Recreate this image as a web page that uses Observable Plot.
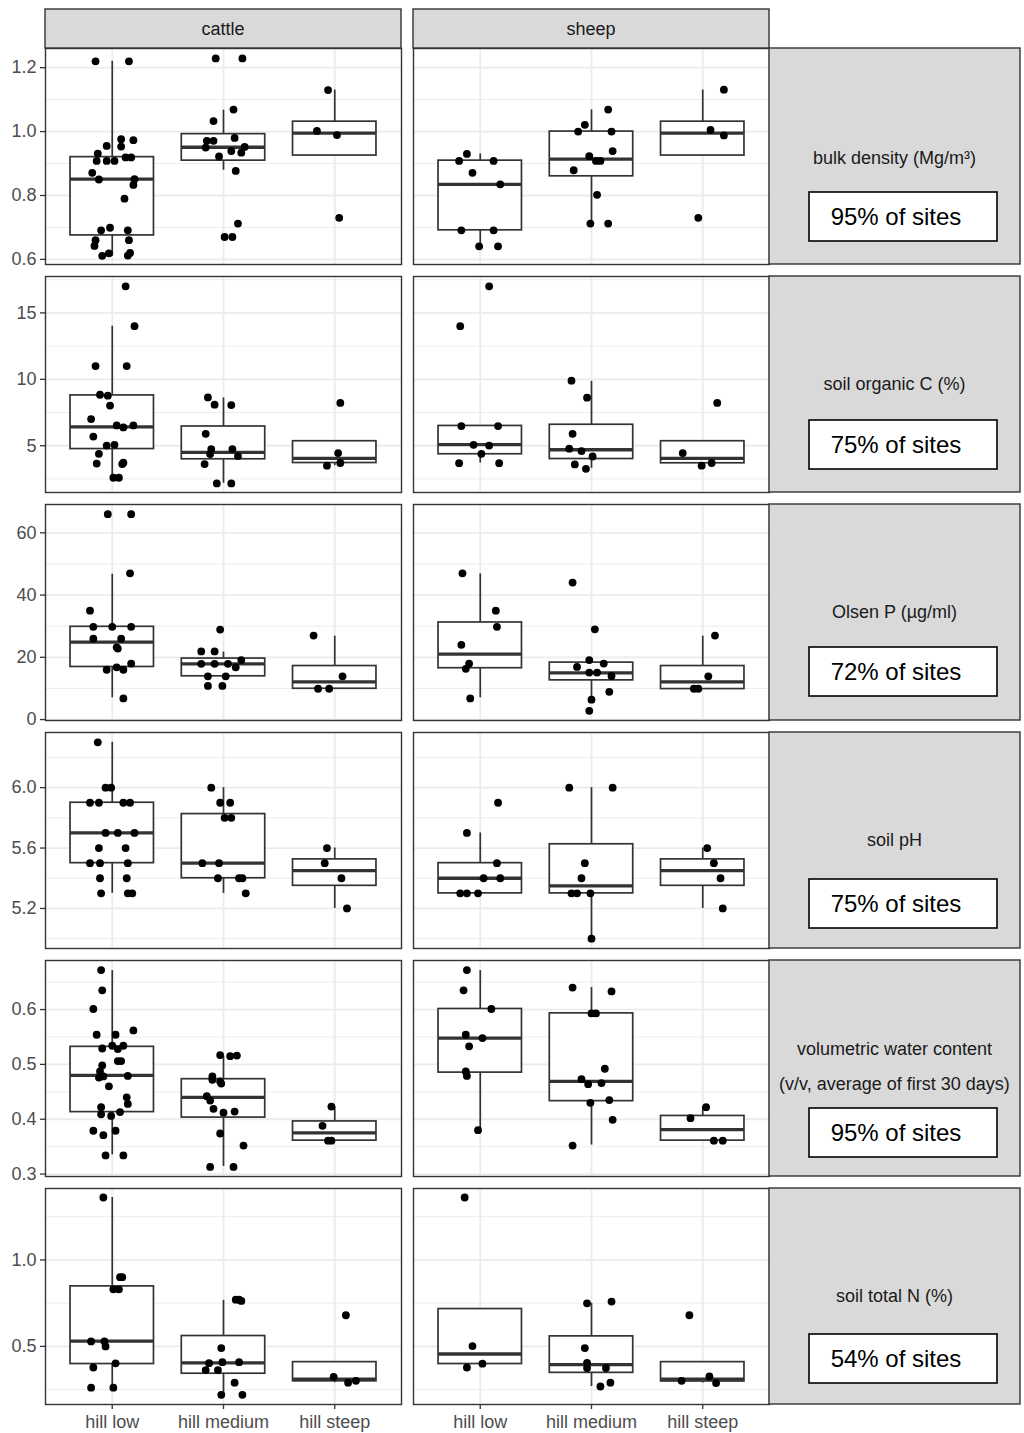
<!DOCTYPE html>
<html><head><meta charset="utf-8">
<script src="https://cdn.jsdelivr.net/npm/d3@7"></script>
<script src="https://cdn.jsdelivr.net/npm/@observablehq/plot@0.6"></script>
<style>
body{margin:0;background:#fff;}
#fig{position:relative;width:1024px;height:1433px;overflow:hidden;background:#fff;font-family:"Liberation Sans",Arial,sans-serif;}
#fig svg{position:absolute;}
</style></head><body><div id="fig"></div>
<script>
// ---------- categories and labels ----------
const animals = ["cattle", "sheep"];
const categories = ["hill low", "hill medium", "hill steep"];
const variableLabels = [
  ["bulk density (Mg/m³)"],
  ["soil organic C (%)"],
  ["Olsen P (µg/ml)"],
  ["soil pH"],
  ["volumetric water content", "(v/v, average of first 30 days)"],
  ["soil total N (%)"]
];
const siteLabels = ["95% of sites", "75% of sites", "72% of sites", "75% of sites", "95% of sites", "54% of sites"];

// ---------- y scale domains and breaks ----------
const yDomains = [[0.584, 1.26], [1.48, 17.74], [-0.3, 69.1], [4.935, 6.365], [0.2956, 0.6894], [0.164, 1.413]];
const majorTicks = [[0.6, 0.8, 1.0, 1.2], [5, 10, 15], [0, 20, 40, 60], [5.2, 5.6, 6.0], [0.3, 0.4, 0.5, 0.6], [0.5, 1.0]];
const minorTicks = [[0.7, 0.9, 1.1], [2.5, 7.5, 12.5, 17.5], [10, 30, 50], [5.0, 5.4, 5.8, 6.2], [0.35, 0.45, 0.55, 0.65], [0.25, 0.75, 1.25]];
const tickFormats = [".1f", "d", "d", ".1f", ".1f", ".1f"];

// ---------- points: [animal, category index, jitter, value] ----------
const bulkDensityPoints = [
  ["cattle",0,-0.15,1.22],["cattle",0,0.15,1.22],["cattle",0,0.08,0.976],["cattle",0,0.19,0.973],["cattle",0,0.08,0.953],["cattle",0,-0.05,0.955],["cattle",0,-0.13,0.931],["cattle",0,-0.14,0.908],["cattle",0,-0.05,0.908],["cattle",0,0.02,0.908],["cattle",0,0.12,0.919],["cattle",0,0.17,0.919],["cattle",0,-0.18,0.871],["cattle",0,-0.12,0.85],["cattle",0,0.2,0.851],["cattle",0,0.19,0.833],["cattle",0,0.11,0.79],["cattle",0,-0.02,0.699],["cattle",0,-0.1,0.691],["cattle",0,0.14,0.691],["cattle",0,0.15,0.66],["cattle",0,-0.15,0.66],["cattle",0,-0.16,0.642],["cattle",0,-0.03,0.619],["cattle",0,-0.09,0.611],["cattle",0,0.14,0.612],["cattle",0,0.16,0.62],
  ["cattle",1,-0.07,1.229],["cattle",1,0.17,1.229],["cattle",1,0.09,1.069],["cattle",1,-0.09,1.033],["cattle",1,-0.15,0.971],["cattle",1,-0.09,0.971],["cattle",1,0.1,0.98],["cattle",1,-0.16,0.95],["cattle",1,-0.04,0.922],["cattle",1,0.07,0.939],["cattle",1,0.16,0.934],["cattle",1,0.19,0.952],["cattle",1,0.11,0.877],["cattle",1,0.13,0.712],["cattle",1,0.01,0.67],["cattle",1,0.08,0.67],
  ["cattle",2,-0.06,1.13],["cattle",2,-0.16,1.002],["cattle",2,0.02,0.989],["cattle",2,0.04,0.73],
  ["sheep",0,-0.12,0.93],["sheep",0,-0.19,0.908],["sheep",0,0.12,0.908],["sheep",0,-0.07,0.871],["sheep",0,0.18,0.835],["sheep",0,-0.17,0.691],["sheep",0,0.12,0.691],["sheep",0,-0.01,0.641],["sheep",0,0.16,0.641],
  ["sheep",1,0.15,1.069],["sheep",1,-0.06,1.021],["sheep",1,-0.12,1.0],["sheep",1,0.18,1.0],["sheep",1,0.19,0.939],["sheep",1,-0.02,0.923],["sheep",1,0.04,0.908],["sheep",1,0.08,0.908],["sheep",1,-0.16,0.879],["sheep",1,0.05,0.802],["sheep",1,-0.01,0.712],["sheep",1,0.15,0.712],
  ["sheep",2,0.19,1.131],["sheep",2,0.07,1.005],["sheep",2,0.19,0.988],["sheep",2,-0.04,0.73]
];
const organicCPoints = [
  ["cattle",0,0.12,17.0],["cattle",0,0.2,14.0],["cattle",0,-0.15,11.0],["cattle",0,0.13,11.0],["cattle",0,-0.11,8.84],["cattle",0,-0.04,8.77],["cattle",0,-0.02,8.02],["cattle",0,-0.19,7.01],["cattle",0,0.04,6.53],["cattle",0,0.1,6.38],["cattle",0,0.19,6.53],["cattle",0,-0.17,5.69],["cattle",0,-0.05,5.01],["cattle",0,0.02,5.07],["cattle",0,-0.12,4.39],["cattle",0,-0.14,3.66],["cattle",0,0.09,3.62],["cattle",0,0.1,3.72],["cattle",0,0.01,2.59],["cattle",0,0.06,2.59],
  ["cattle",1,-0.14,8.64],["cattle",1,-0.08,8.09],["cattle",1,0.07,8.06],["cattle",1,-0.16,5.9],["cattle",1,-0.11,4.75],["cattle",1,0.08,4.75],["cattle",1,-0.12,4.37],["cattle",1,0.13,4.22],["cattle",1,-0.17,3.62],["cattle",1,-0.06,2.16],["cattle",1,0.07,2.16],
  ["cattle",2,0.05,8.22],["cattle",2,0.03,4.45],["cattle",2,0.05,3.7],["cattle",2,-0.07,3.5],
  ["sheep",0,0.08,17.0],["sheep",0,-0.18,14.0],["sheep",0,-0.17,6.48],["sheep",0,0.16,6.48],["sheep",0,-0.06,5.07],["sheep",0,0.08,5.01],["sheep",0,0.01,4.39],["sheep",0,-0.19,3.69],["sheep",0,0.17,3.69],
  ["sheep",1,-0.18,9.9],["sheep",1,-0.04,8.62],["sheep",1,-0.17,5.9],["sheep",1,-0.2,4.78],["sheep",1,-0.09,4.6],["sheep",1,0.01,4.19],["sheep",1,-0.15,3.59],["sheep",1,-0.05,3.26],
  ["sheep",2,0.13,8.22],["sheep",2,-0.18,4.45],["sheep",2,-0.01,3.5],["sheep",2,0.08,3.7]
];
const olsenPPoints = [
  ["cattle",0,-0.04,66],["cattle",0,0.17,66],["cattle",0,0.16,47],["cattle",0,-0.2,35],["cattle",0,-0.17,29.8],["cattle",0,0,29.8],["cattle",0,0.17,29.8],["cattle",0,-0.17,26],["cattle",0,0.08,26],["cattle",0,0.04,23.2],["cattle",0,0.05,22.8],["cattle",0,0.17,18],["cattle",0,-0.05,16],["cattle",0,0.1,16],["cattle",0,0.04,16.8],["cattle",0,0.1,6.8],
  ["cattle",1,-0.03,28.9],["cattle",1,-0.2,21.9],["cattle",1,-0.08,21.9],["cattle",1,0.16,19.1],["cattle",1,-0.2,17.9],["cattle",1,-0.08,17.9],["cattle",1,0.04,17.9],["cattle",1,0.11,16.8],["cattle",1,-0.14,13.9],["cattle",1,0.02,13.9],["cattle",1,-0.14,10.8],["cattle",1,-0.01,10.8],
  ["cattle",2,-0.19,27],["cattle",2,0.07,13.9],["cattle",2,-0.15,9.9],["cattle",2,-0.05,9.9],
  ["sheep",0,-0.16,47],["sheep",0,0.14,35],["sheep",0,0.15,29.8],["sheep",0,-0.17,24],["sheep",0,-0.1,18],["sheep",0,-0.13,16.3],["sheep",0,-0.09,6.8],
  ["sheep",1,-0.17,44],["sheep",1,0.03,29],["sheep",1,-0.02,19.1],["sheep",1,0.11,18],["sheep",1,-0.13,16.9],["sheep",1,-0.02,15.1],["sheep",1,0.05,15.1],["sheep",1,0.18,14],["sheep",1,0.16,8.9],["sheep",1,0,6.4],["sheep",1,-0.02,2.8],
  ["sheep",2,0.11,27],["sheep",2,0.05,13.9],["sheep",2,-0.08,9.9],["sheep",2,-0.04,9.9]
];
const soilPHPoints = [
  ["cattle",0,-0.13,6.3],["cattle",0,-0.06,6.0],["cattle",0,-0.01,6.0],["cattle",0,-0.2,5.9],["cattle",0,-0.12,5.9],["cattle",0,0.1,5.9],["cattle",0,0.16,5.9],["cattle",0,-0.06,5.7],["cattle",0,0.05,5.7],["cattle",0,0.2,5.7],["cattle",0,-0.12,5.6],["cattle",0,0.12,5.6],["cattle",0,-0.2,5.5],["cattle",0,-0.11,5.5],["cattle",0,0.14,5.5],["cattle",0,-0.11,5.4],["cattle",0,0.13,5.4],["cattle",0,-0.1,5.3],["cattle",0,0.14,5.3],["cattle",0,0.18,5.3],
  ["cattle",1,-0.11,6.0],["cattle",1,-0.03,5.9],["cattle",1,0.06,5.9],["cattle",1,0.01,5.8],["cattle",1,0.07,5.8],["cattle",1,-0.19,5.5],["cattle",1,-0.04,5.5],["cattle",1,-0.05,5.4],["cattle",1,0.14,5.4],["cattle",1,0.17,5.4],["cattle",1,0.2,5.3],
  ["cattle",2,-0.07,5.6],["cattle",2,-0.09,5.5],["cattle",2,0.06,5.4],["cattle",2,0.11,5.2],
  ["sheep",0,0.16,5.9],["sheep",0,-0.12,5.7],["sheep",0,0.15,5.5],["sheep",0,0.03,5.4],["sheep",0,0.18,5.4],["sheep",0,-0.18,5.3],["sheep",0,-0.12,5.3],["sheep",0,-0.02,5.3],
  ["sheep",1,-0.2,6.0],["sheep",1,0.19,6.0],["sheep",1,-0.06,5.5],["sheep",1,-0.09,5.4],["sheep",1,-0.18,5.3],["sheep",1,-0.13,5.3],["sheep",1,-0.01,5.3],["sheep",1,0,5.0],
  ["sheep",2,0.04,5.6],["sheep",2,0.1,5.5],["sheep",2,0.16,5.4],["sheep",2,0.18,5.2]
];
const waterContentPoints = [
  ["cattle",0,-0.1,0.672],["cattle",0,-0.09,0.635],["cattle",0,-0.17,0.601],["cattle",0,-0.14,0.554],["cattle",0,0.03,0.554],["cattle",0,0.19,0.562],["cattle",0,-0.09,0.529],["cattle",0,0,0.534],["cattle",0,0.05,0.528],["cattle",0,0.1,0.534],["cattle",0,0.05,0.506],["cattle",0,0.08,0.506],["cattle",0,-0.09,0.498],["cattle",0,-0.11,0.487],["cattle",0,-0.12,0.476],["cattle",0,-0.08,0.478],["cattle",0,0.14,0.479],["cattle",0,-0.03,0.46],["cattle",0,0.13,0.44],["cattle",0,0.14,0.428],["cattle",0,-0.1,0.422],["cattle",0,-0.1,0.409],["cattle",0,-0.01,0.406],["cattle",0,0.07,0.413],["cattle",0,-0.17,0.379],["cattle",0,-0.08,0.371],["cattle",0,0.03,0.379],["cattle",0,-0.06,0.334],["cattle",0,0.1,0.334],
  ["cattle",1,-0.03,0.517],["cattle",1,0.06,0.515],["cattle",1,0.12,0.516],["cattle",1,-0.1,0.478],["cattle",1,-0.1,0.472],["cattle",1,-0.03,0.469],["cattle",1,-0.02,0.465],["cattle",1,-0.15,0.442],["cattle",1,-0.12,0.434],["cattle",1,-0.09,0.419],["cattle",1,0,0.412],["cattle",1,0.1,0.414],["cattle",1,-0.03,0.374],["cattle",1,0.18,0.352],["cattle",1,-0.12,0.313],["cattle",1,0.09,0.313],
  ["cattle",2,-0.03,0.423],["cattle",2,-0.11,0.388],["cattle",2,-0.06,0.361],["cattle",2,-0.03,0.361],
  ["sheep",0,-0.12,0.672],["sheep",0,-0.15,0.635],["sheep",0,0.1,0.601],["sheep",0,-0.13,0.554],["sheep",0,0.02,0.548],["sheep",0,-0.1,0.533],["sheep",0,-0.13,0.487],["sheep",0,-0.12,0.479],["sheep",0,-0.02,0.38],
  ["sheep",1,-0.17,0.64],["sheep",1,0.18,0.633],["sheep",1,0,0.593],["sheep",1,0.04,0.593],["sheep",1,0.12,0.492],["sheep",1,-0.09,0.473],["sheep",1,-0.03,0.464],["sheep",1,0.09,0.466],["sheep",1,0.16,0.435],["sheep",1,-0.01,0.43],["sheep",1,0.19,0.399],["sheep",1,-0.17,0.352],
  ["sheep",2,0.03,0.422],["sheep",2,-0.11,0.402],["sheep",2,0.1,0.361],["sheep",2,0.18,0.361]
];
const totalNPoints = [
  ["cattle",0,-0.08,1.361],["cattle",0,0.07,0.9],["cattle",0,0.09,0.9],["cattle",0,0.01,0.83],["cattle",0,0.06,0.83],["cattle",0,-0.19,0.529],["cattle",0,-0.07,0.529],["cattle",0,-0.06,0.5],["cattle",0,0.03,0.402],["cattle",0,-0.17,0.378],["cattle",0,-0.19,0.261],["cattle",0,0.01,0.261],
  ["cattle",1,0.11,0.77],["cattle",1,0.14,0.77],["cattle",1,0.16,0.763],["cattle",1,-0.02,0.49],["cattle",1,-0.13,0.403],["cattle",1,-0.01,0.409],["cattle",1,0.14,0.409],["cattle",1,-0.16,0.363],["cattle",1,-0.05,0.363],["cattle",1,0.1,0.29],["cattle",1,-0.02,0.22],["cattle",1,0.17,0.22],
  ["cattle",2,0.1,0.68],["cattle",2,-0.01,0.324],["cattle",2,0.12,0.29],["cattle",2,0.19,0.301],
  ["sheep",0,-0.14,1.361],["sheep",0,-0.07,0.502],["sheep",0,-0.12,0.378],["sheep",0,0.02,0.4],
  ["sheep",1,-0.04,0.749],["sheep",1,0.18,0.759],["sheep",1,-0.06,0.49],["sheep",1,-0.04,0.405],["sheep",1,-0.04,0.375],["sheep",1,0.13,0.375],["sheep",1,0.08,0.268],["sheep",1,0.17,0.29],
  ["sheep",2,-0.12,0.68],["sheep",2,0.06,0.326],["sheep",2,-0.19,0.301],["sheep",2,0.12,0.288]
];

// ---------- box statistics: [animal, category index, lower whisker, q1, median, q3, upper whisker] ----------
const bulkDensityBoxes = [
  ["cattle",0,0.61,0.675,0.851,0.92,1.22],["cattle",1,0.879,0.909,0.951,0.992,1.067],["cattle",2,0.925,0.925,0.995,1.031,1.13],
  ["sheep",0,0.641,0.691,0.835,0.909,0.93],["sheep",1,0.712,0.86,0.914,1.0,1.068],["sheep",2,0.925,0.925,0.995,1.031,1.13]
];
const organicCBoxes = [
  ["cattle",0,2.59,4.75,6.42,8.79,14.0],["cattle",1,2.18,3.98,4.5,6.45,8.6],["cattle",2,3.5,3.7,4.05,5.34,5.34],
  ["sheep",0,3.7,4.36,5.08,6.49,6.49],["sheep",1,3.3,4.0,4.7,6.58,9.85],["sheep",2,3.5,3.68,4.05,5.34,5.34]
];
const olsenPBoxes = [
  ["cattle",0,7.0,16.9,24.9,29.8,46.7],["cattle",1,13.9,13.9,17.9,19.6,21.7],["cattle",2,9.9,9.9,12.1,17.2,26.8],
  ["sheep",0,7.0,16.5,21.0,31.2,46.8],["sheep",1,6.4,12.6,15.0,18.3,19.1],["sheep",2,9.8,9.8,12.1,17.2,26.8]
];
const soilPHBoxes = [
  ["cattle",0,5.3,5.5,5.7,5.9,6.3],["cattle",1,5.3,5.4,5.5,5.825,6.0],["cattle",2,5.2,5.35,5.45,5.525,5.6],
  ["sheep",0,5.3,5.3,5.4,5.5,5.7],["sheep",1,5.0,5.3,5.35,5.625,6.0],["sheep",2,5.2,5.35,5.45,5.525,5.6]
];
const waterContentBoxes = [
  ["cattle",0,0.335,0.413,0.48,0.532,0.671],["cattle",1,0.314,0.403,0.44,0.473,0.515],["cattle",2,0.361,0.361,0.375,0.396,0.422],
  ["sheep",0,0.38,0.485,0.548,0.601,0.671],["sheep",1,0.353,0.433,0.469,0.593,0.64],["sheep",2,0.361,0.361,0.381,0.406,0.422]
];
const totalNBoxes = [
  ["cattle",0,0.261,0.398,0.531,0.847,1.361],["cattle",1,0.22,0.342,0.405,0.56,0.766],["cattle",2,0.29,0.298,0.311,0.409,0.409],
  ["sheep",0,0.398,0.398,0.456,0.716,0.716],["sheep",1,0.268,0.347,0.394,0.558,0.749],["sheep",2,0.288,0.297,0.311,0.409,0.409]
];

// ---------- assemble ----------
const pointSets = [bulkDensityPoints, organicCPoints, olsenPPoints, soilPHPoints, waterContentPoints, totalNPoints];
const boxSets = [bulkDensityBoxes, organicCBoxes, olsenPBoxes, soilPHBoxes, waterContentBoxes, totalNBoxes];

const FONT = '"Liberation Sans", Arial, sans-serif';
const panelLeft = {cattle: 45, sheep: 413};
const panelW = 356, panelH = 216;
const rowTops = [48, 276, 504, 732, 960, 1188];
const stripX = 769, stripW = 251;
const siteBoxOffsets = [144, 144, 143, 147, 148, 146];
const labelOffsets = [110, 108, 108, 108, 106, 108];
const fig = document.getElementById("fig");
const catX = [1, 2, 3];
const GRID = "#EBEBEB", INK = "#333333";

function panel(ri, animal, isLast) {
  const isCattle = animal === "cattle";
  const mL = isCattle ? 45 : 1, mB = isLast ? 34 : 1;
  const pts = pointSets[ri].filter(d => d[0] === animal);
  const bx = boxSets[ri].filter(d => d[0] === animal);
  const cx = d => d[1] + 1;
  const svg = Plot.plot({
    width: mL + panelW + 1,
    height: 1 + panelH + mB,
    marginLeft: mL, marginRight: 1, marginTop: 1, marginBottom: mB,
    style: {background: "transparent", fontFamily: FONT, fontSize: "18px", overflow: "visible", maxWidth: "none"},
    x: {domain: [0.4, 3.6], axis: null},
    y: {domain: yDomains[ri], axis: null},
    marks: [
      Plot.frame({fill: "white", stroke: null}),
      Plot.gridY(minorTicks[ri], {stroke: GRID, strokeOpacity: 1, strokeWidth: 0.9}),
      Plot.gridY(majorTicks[ri], {stroke: GRID, strokeOpacity: 1, strokeWidth: 1.8}),
      Plot.gridX(catX, {stroke: GRID, strokeOpacity: 1, strokeWidth: 1.8}),
      Plot.ruleX(bx, {x: cx, y1: d => d[2], y2: d => d[3], stroke: INK, strokeWidth: 1.7}),
      Plot.ruleX(bx, {x: cx, y1: d => d[5], y2: d => d[6], stroke: INK, strokeWidth: 1.7}),
      Plot.rect(bx, {x1: d => cx(d) - 0.375, x2: d => cx(d) + 0.375, y1: d => d[3], y2: d => d[5], fill: "white", stroke: INK, strokeWidth: 1.7}),
      Plot.ruleY(bx, {y: d => d[4], x1: d => cx(d) - 0.375, x2: d => cx(d) + 0.375, stroke: INK, strokeWidth: 3.3}),
      Plot.dot(pts, {x: d => cx(d) + d[2], y: d => d[3], r: 3.9, fill: "black", stroke: null}),
      Plot.frame({stroke: INK, strokeWidth: 1.4}),
      isCattle ? Plot.axisY(majorTicks[ri], {tickSize: 5, tickPadding: 4, tickFormat: d3.format(tickFormats[ri]), stroke: INK, strokeWidth: 1.3, fill: "#4D4D4D", fontSize: 18, label: null}) : null,
      isLast ? Plot.axisX(catX, {tickSize: 5, tickPadding: 6, tickFormat: i => categories[i - 1], stroke: INK, strokeWidth: 1.3, fill: "#4D4D4D", fontSize: 18, label: null}) : null
    ]
  });
  svg.style.left = (panelLeft[animal] - mL) + "px";
  svg.style.top = (rowTops[ri] - 1) + "px";
  fig.appendChild(svg);
}

rowTops.forEach((_, ri) => animals.forEach(a => panel(ri, a, ri === rowTops.length - 1)));

// ---------- strips and side labels ----------
const ov = d3.create("svg").attr("width", 1024).attr("height", 1433)
  .style("left", "0px").style("top", "0px").style("font-family", FONT);
animals.forEach(a => {
  ov.append("rect").attr("x", panelLeft[a]).attr("y", 9).attr("width", panelW).attr("height", 39)
    .attr("fill", "#D9D9D9").attr("stroke", INK).attr("stroke-width", 1.4);
  ov.append("text").attr("x", panelLeft[a] + panelW / 2).attr("y", 28.5).attr("dy", "0.36em")
    .attr("text-anchor", "middle").attr("font-size", 18).attr("fill", "#1A1A1A").text(a);
});
rowTops.forEach((top, ri) => {
  ov.append("rect").attr("x", stripX).attr("y", top).attr("width", stripW).attr("height", panelH)
    .attr("fill", "#D9D9D9").attr("stroke", INK).attr("stroke-width", 1.4);
  const lines = variableLabels[ri];
  const lh = 35;
  lines.forEach((ln, li) => {
    ov.append("text").attr("x", stripX + stripW / 2)
      .attr("y", top + labelOffsets[ri] + (li - (lines.length - 1) / 2) * lh).attr("dy", "0.36em")
      .attr("text-anchor", "middle").attr("font-size", 18).attr("fill", "#1A1A1A").text(ln);
  });
  const by = top + siteBoxOffsets[ri];
  ov.append("rect").attr("x", 809).attr("y", by).attr("width", 188).attr("height", 49)
    .attr("fill", "white").attr("stroke", "black").attr("stroke-width", 1.6);
  ov.append("text").attr("x", 896).attr("y", by + 24.5).attr("dy", "0.36em")
    .attr("text-anchor", "middle").attr("font-size", 24).attr("fill", "black").text(siteLabels[ri]);
});
fig.appendChild(ov.node());
</script></body></html>
